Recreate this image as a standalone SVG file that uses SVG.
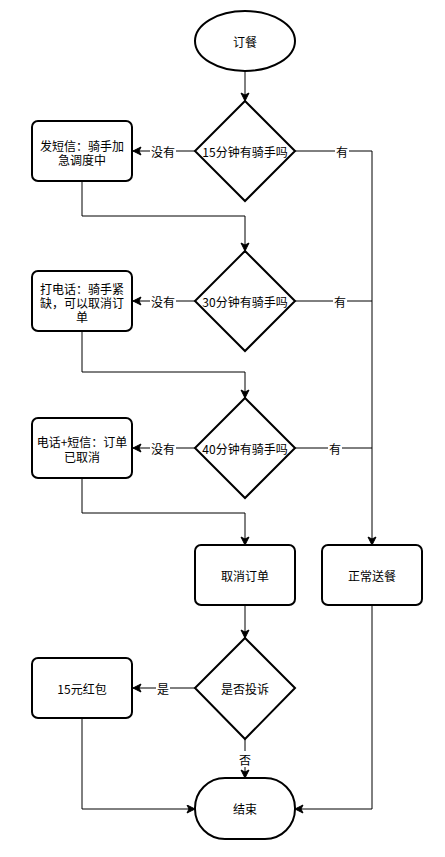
<svg xmlns="http://www.w3.org/2000/svg" width="445" height="857" viewBox="0 0 445 857">
<style>
.n{fill:#fff;stroke:#000;stroke-width:2}
.c{fill:none;stroke:#000;stroke-width:1}
.t{font-family:"Noto Sans CJK SC","Microsoft YaHei",sans-serif;font-size:12px;fill:#000;text-anchor:middle;dominant-baseline:central}
.lb{fill:#fff}
</style>
<defs>
<marker id="a" markerUnits="userSpaceOnUse" markerWidth="10" markerHeight="10" refX="9" refY="4.5" orient="auto">
<path d="M1,0.5 L9,4.5 L1,8.5 L3,4.5 Z" fill="#000" stroke="#000" stroke-width="1"/>
</marker>
</defs>
<rect width="445" height="857" fill="#fff"/>
<g id="connectors">
<path class="c" d="M245,71 V101" marker-end="url(#a)"/>
<path class="c" d="M195,151 H133" marker-end="url(#a)"/>
<path class="c" d="M295,151 H372 V545" marker-end="url(#a)"/>
<path class="c" d="M82,181 V216 H245 V251" marker-end="url(#a)"/>
<path class="c" d="M195,301 H133" marker-end="url(#a)"/>
<path class="c" d="M295,301 H372"/>
<path class="c" d="M82,331 V372 H245 V398" marker-end="url(#a)"/>
<path class="c" d="M195,448 H133" marker-end="url(#a)"/>
<path class="c" d="M295,448 H372"/>
<path class="c" d="M82,478 V513 H245 V545" marker-end="url(#a)"/>
<path class="c" d="M245,605 V638" marker-end="url(#a)"/>
<path class="c" d="M195,688 H133" marker-end="url(#a)"/>
<path class="c" d="M245,739 V778" marker-end="url(#a)"/>
<path class="c" d="M82,718 V809 H195" marker-end="url(#a)"/>
<path class="c" d="M372,605 V809 H295" marker-end="url(#a)"/>
<rect class="lb" x="150" y="143" width="26" height="16"/><text class="t" x="163" y="151">没有</text>
<rect class="lb" x="335" y="143" width="14" height="16"/><text class="t" x="342" y="151">有</text>
<rect class="lb" x="150" y="293" width="26" height="16"/><text class="t" x="163" y="301">没有</text>
<rect class="lb" x="333" y="293" width="14" height="16"/><text class="t" x="340" y="301">有</text>
<rect class="lb" x="150" y="440" width="26" height="16"/><text class="t" x="163" y="448">没有</text>
<rect class="lb" x="328" y="440" width="14" height="16"/><text class="t" x="335" y="448">有</text>
<rect class="lb" x="156" y="680" width="14" height="16"/><text class="t" x="163" y="688">是</text>
<rect class="lb" x="238" y="751" width="14" height="16"/><text class="t" x="245" y="759">否</text>
</g>
<g id="start">
<ellipse class="n" cx="245" cy="41" rx="50" ry="30"/>
<text class="t" x="245" y="41">订餐</text>
</g>
<g id="d15">
<path class="n" d="M245,101 L295,151 L245,201 L195,151 Z"/>
<text class="t" x="245" y="151">15分钟有骑手吗</text>
</g>
<g id="sms">
<rect class="n" x="32" y="121" width="100" height="60" rx="6"/>
<text class="t" x="82" y="145">发短信：骑手加<tspan x="82" dy="14">急调度中</tspan></text>
</g>
<g id="d30">
<path class="n" d="M245,251 L295,301 L245,351 L195,301 Z"/>
<text class="t" x="245" y="301">30分钟有骑手吗</text>
</g>
<g id="call">
<rect class="n" x="32" y="271" width="100" height="60" rx="6"/>
<text class="t" x="82" y="288">打电话：骑手紧<tspan x="82" dy="14">缺，可以取消订</tspan><tspan x="82" dy="14">单</tspan></text>
</g>
<g id="d40">
<path class="n" d="M245,398 L295,448 L245,498 L195,448 Z"/>
<text class="t" x="245" y="448">40分钟有骑手吗</text>
</g>
<g id="cancelled">
<rect class="n" x="32" y="418" width="100" height="60" rx="6"/>
<text class="t" x="82" y="441">电话+短信：订单<tspan x="82" dy="15">已取消</tspan></text>
</g>
<g id="cancel">
<rect class="n" x="195" y="545" width="100" height="60" rx="6"/>
<text class="t" x="245" y="575">取消订单</text>
</g>
<g id="deliver">
<rect class="n" x="322" y="545" width="100" height="60" rx="6"/>
<text class="t" x="372" y="575">正常送餐</text>
</g>
<g id="complain">
<path class="n" d="M245,638 L295,688 L245,739 L195,688 Z"/>
<text class="t" x="245" y="688">是否投诉</text>
</g>
<g id="redpacket">
<rect class="n" x="32" y="658" width="100" height="60" rx="6"/>
<text class="t" x="82" y="688">15元红包</text>
</g>
<g id="end">
<rect class="n" x="195" y="778" width="100" height="61" rx="30" ry="30"/>
<text class="t" x="245" y="808">结束</text>
</g>
</svg>
